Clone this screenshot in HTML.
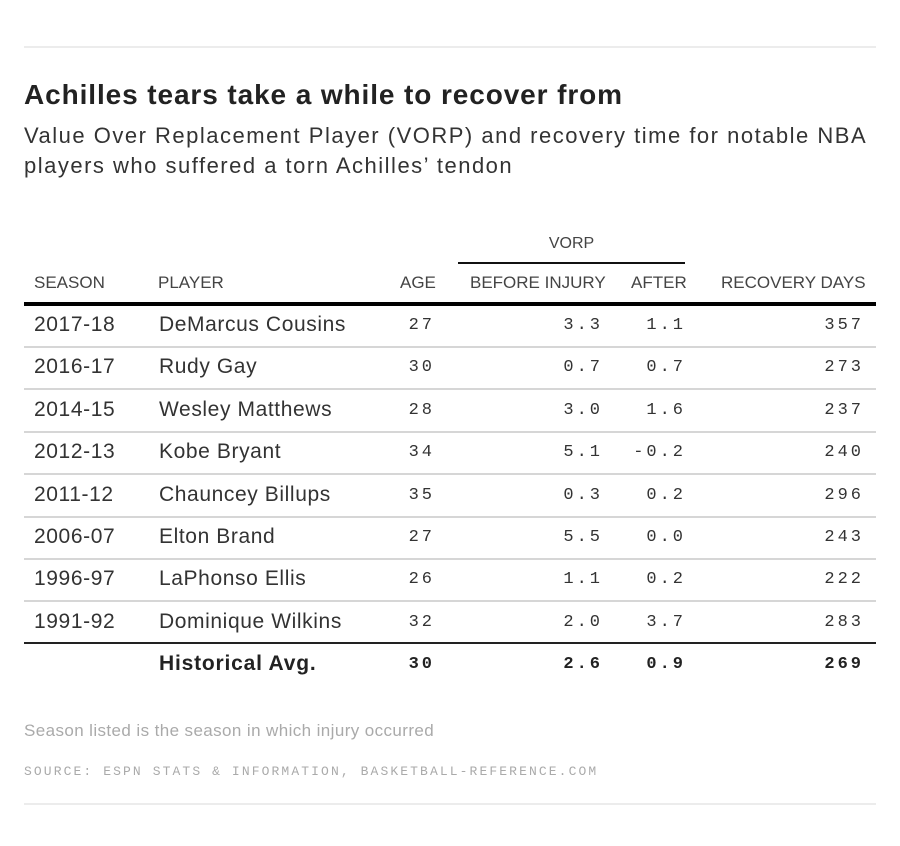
<!DOCTYPE html>
<html><head><meta charset="utf-8"><style>
body{margin:0;width:900px;height:846px;background:#fff;position:relative;font-family:"Liberation Sans",sans-serif;color:#222;overflow:hidden}
.a{position:absolute;white-space:nowrap}
.h{font-size:17px;color:#444;top:273px}
.r{font-size:21px;color:#333;letter-spacing:0.6px}
.m{font-family:"Liberation Mono",monospace;font-size:17px;letter-spacing:3px;color:#333}
.ln{position:absolute;left:24px;width:852px;height:2px;background:#d6d6d6}
</style></head><body>
<div class="ln" style="top:46px;background:#ececec"></div>
<div class="a" style="left:24px;top:79px;font-size:28px;font-weight:bold;color:#222;letter-spacing:0.9px">Achilles tears take a while to recover from</div>
<div class="a" style="left:24px;top:121px;font-size:22px;color:#333;line-height:30px;letter-spacing:1.5px">Value Over Replacement Player (VORP) and recovery time for notable NBA<br>players who suffered a torn Achilles’ tendon</div>
<div class="a" style="left:458px;width:227px;top:235px;font-size:16px;color:#444;text-align:center">VORP</div>
<div style="position:absolute;left:458px;width:227px;top:262px;height:2px;background:#111"></div>
<div class="a h" style="left:34px">SEASON</div>
<div class="a h" style="left:158px">PLAYER</div>
<div class="a h" style="left:400px">AGE</div>
<div class="a h" style="left:470px">BEFORE INJURY</div>
<div class="a h" style="left:631px">AFTER</div>
<div class="a h" style="left:721px">RECOVERY DAYS</div>
<div style="position:absolute;left:24px;width:852px;top:302px;height:4px;background:#000"></div>
<div id="rows"></div>
<script>
var d=[["2017-18","DeMarcus Cousins","27","3.3","1.1","357"],["2016-17","Rudy Gay","30","0.7","0.7","273"],["2014-15","Wesley Matthews","28","3.0","1.6","237"],["2012-13","Kobe Bryant","34","5.1","-0.2","240"],["2011-12","Chauncey Billups","35","0.3","0.2","296"],["2006-07","Elton Brand","27","5.5","0.0","243"],["1996-97","LaPhonso Ellis","26","1.1","0.2","222"],["1991-92","Dominique Wilkins","32","2.0","3.7","283"]];
var h="";
d.forEach(function(r,i){var c=326+i*42.4;var t=c-13;
h+='<div class="a r" style="left:34px;top:'+t+'px">'+r[0]+'</div>';
h+='<div class="a r" style="left:159px;top:'+t+'px">'+r[1]+'</div>';
h+='<div class="a m" style="right:465px;top:'+(t+3)+'px">'+r[2]+'</div>';
h+='<div class="a m" style="right:297px;top:'+(t+3)+'px">'+r[3]+'</div>';
h+='<div class="a m" style="right:214px;top:'+(t+3)+'px">'+r[4]+'</div>';
h+='<div class="a m" style="right:36px;top:'+(t+3)+'px">'+r[5]+'</div>';
if(i<7)h+='<div class="ln" style="top:'+(c+20)+'px"></div>';
});
document.getElementById("rows").innerHTML=h;
</script>
<div style="position:absolute;left:24px;width:852px;top:642px;height:2px;background:#222"></div>
<div class="a r" style="left:159px;top:652px;font-weight:bold;color:#222;letter-spacing:0.8px">Historical Avg.</div>
<div class="a m" style="right:465px;top:655px;font-weight:bold;color:#222">30</div>
<div class="a m" style="right:297px;top:655px;font-weight:bold;color:#222">2.6</div>
<div class="a m" style="right:214px;top:655px;font-weight:bold;color:#222">0.9</div>
<div class="a m" style="right:36px;top:655px;font-weight:bold;color:#222">269</div>
<div class="a" style="left:24px;top:721px;font-size:17px;color:#aaa;letter-spacing:0.4px">Season listed is the season in which injury occurred</div>
<div class="a" style="left:24px;top:764px;font-size:13px;color:#aaa;letter-spacing:2.1px;font-family:'Liberation Mono',monospace">SOURCE: ESPN STATS &amp; INFORMATION, BASKETBALL-REFERENCE.COM</div>
<div class="ln" style="top:803px;background:#ececec"></div>
</body></html>
